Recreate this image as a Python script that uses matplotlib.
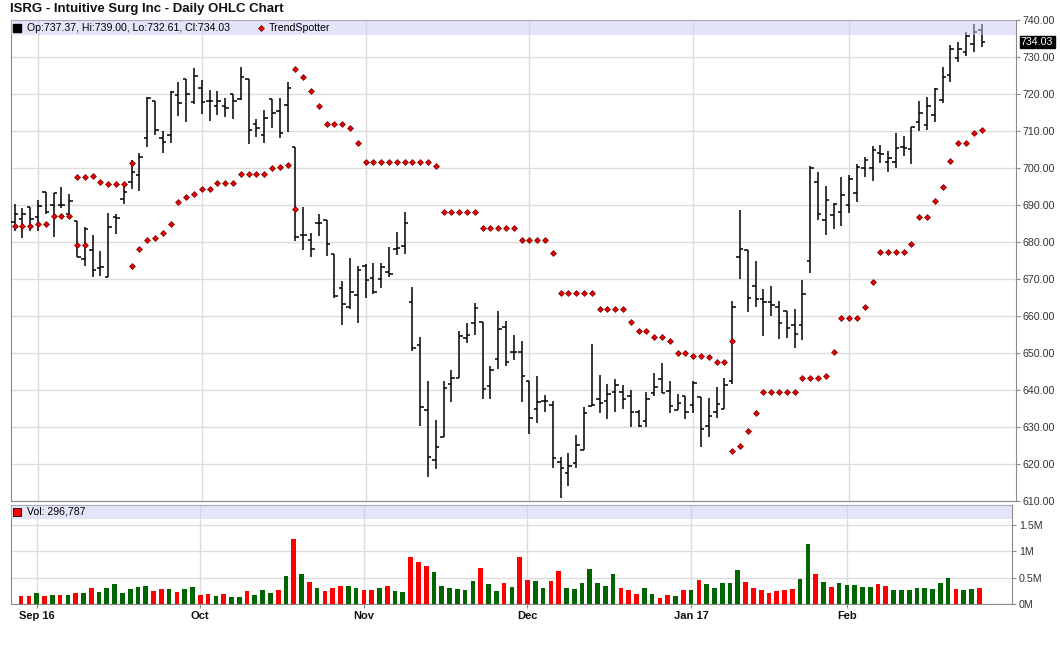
import matplotlib
matplotlib.use('Agg')
import matplotlib.pyplot as plt
import numpy as np
import pandas as pd

plt.rcParams['font.family'] = ['Liberation Sans', 'DejaVu Sans']

# daily OHLC, Aug 29 2016 .. Feb 27 2017
opens = [685.4, 686.2, 689.4, 686.7, 693.4, 690.0, 690.0, 687.7, 685.8, 675.4,
         677.8, 672.9, 670.6, 686.8, 691.6, 696.1, 698.1, 708.0, 718.1, 708.0,
         708.9, 719.7, 724.1, 717.9, 721.5, 718.2, 716.8, 716.8, 720.0, 718.6,
         724.1, 711.8, 708.9, 718.6, 715.5, 717.0, 705.8, 681.9, 680.5, 685.2,
         685.9, 676.7, 667.5, 662.5, 665.7, 673.5, 670.4, 670.0, 671.8, 678.0,
         678.9, 663.7, 652.2, 634.6, 621.1, 627.2, 641.5, 643.2, 654.1, 658.2,
         658.5, 641.1, 648.4, 657.1, 650.2, 650.2, 642.5, 634.9, 637.1, 635.9,
         620.6, 617.7, 620.4, 623.8, 635.8, 637.6, 637.0, 639.5, 639.4, 638.4,
         634.0, 631.6, 639.3, 643.0, 639.8, 634.6, 638.4, 636.0, 638.2, 630.3,
         634.0, 635.0, 642.3, 675.9, 677.8, 668.1, 664.6, 663.7, 662.3, 661.4,
         657.6, 657.6, 674.9, 696.1, 685.9, 687.3, 688.0, 690.0, 693.2, 700.1,
         699.9, 704.1, 701.5, 701.7, 705.8, 705.1, 712.3, 711.6, 714.3, 718.4,
         725.1, 729.8, 731.3, 733.4, 737.37]
highs = [690.2, 689.1, 689.4, 691.4, 693.4, 693.2, 695.0, 693.0, 685.8, 684.0,
         681.9, 677.7, 687.9, 687.7, 695.9, 702.2, 704.0, 719.3, 718.1, 710.0,
         720.8, 723.2, 724.1, 727.1, 723.8, 721.1, 720.8, 718.8, 720.0, 727.3,
         724.1, 713.2, 715.7, 718.6, 719.0, 723.3, 705.8, 689.4, 682.3, 687.6,
         685.9, 676.7, 669.5, 675.8, 673.6, 674.0, 674.4, 674.4, 678.6, 682.8,
         688.0, 667.9, 654.4, 642.3, 631.9, 642.3, 645.4, 656.0, 658.2, 663.6,
         658.5, 646.5, 661.4, 658.6, 654.9, 653.2, 642.5, 643.8, 638.6, 637.1,
         621.8, 623.1, 627.8, 635.3, 652.3, 644.1, 641.6, 643.0, 641.4, 640.0,
         634.6, 639.5, 644.7, 647.4, 642.5, 638.9, 638.4, 642.3, 638.2, 637.9,
         640.9, 643.2, 664.1, 688.6, 677.8, 674.9, 667.3, 668.1, 664.1, 661.4,
         661.9, 669.7, 700.5, 698.8, 695.1, 690.5, 697.7, 698.1, 701.0, 703.1,
         705.9, 706.2, 704.7, 709.4, 708.6, 711.2, 718.2, 719.1, 721.5, 727.2,
         733.2, 734.0, 736.7, 738.9, 739.00]
lows = [683.1, 681.2, 683.1, 683.1, 687.6, 681.4, 689.1, 686.2, 675.9, 673.6,
        670.6, 670.9, 670.5, 682.1, 690.3, 694.3, 693.9, 705.8, 708.9, 704.0,
        706.8, 714.1, 712.3, 717.2, 714.6, 712.8, 714.3, 713.9, 713.2, 718.4,
        706.4, 708.5, 706.8, 710.7, 708.0, 709.8, 680.4, 677.8, 675.9, 681.7,
        676.3, 665.0, 657.7, 661.8, 658.2, 665.0, 665.9, 667.7, 670.5, 676.5,
        676.8, 650.6, 630.4, 616.6, 618.6, 627.2, 636.8, 643.2, 652.6, 654.9,
        637.5, 637.5, 645.6, 646.5, 648.1, 636.7, 628.0, 631.0, 634.1, 618.8,
        610.7, 614.1, 618.8, 623.8, 635.7, 633.9, 632.1, 634.0, 635.0, 629.9,
        629.9, 629.9, 638.5, 639.3, 633.7, 634.6, 632.1, 633.7, 624.5, 627.4,
        632.3, 635.0, 641.5, 669.9, 661.0, 662.5, 654.7, 660.1, 653.8, 654.1,
        651.4, 653.5, 671.7, 685.9, 681.9, 683.5, 684.4, 687.9, 690.9, 697.7,
        696.6, 701.4, 699.0, 700.1, 703.3, 701.0, 710.1, 710.3, 712.5, 717.5,
        723.3, 728.6, 730.4, 731.3, 732.61]
closes = [687.6, 687.6, 686.2, 689.8, 688.2, 693.2, 690.0, 691.1, 676.0, 683.5,
          672.3, 673.2, 684.1, 686.4, 693.4, 698.8, 703.1, 718.8, 710.3, 707.1,
          720.6, 717.7, 720.0, 724.9, 717.9, 718.2, 718.2, 716.1, 718.2, 724.5,
          710.3, 710.7, 713.4, 714.8, 709.4, 721.5, 681.4, 681.9, 678.0, 685.2,
          679.5, 665.5, 663.2, 666.4, 672.3, 669.7, 666.4, 673.2, 671.3, 678.3,
          685.2, 651.3, 635.3, 622.0, 624.7, 640.5, 643.2, 654.6, 654.9, 662.1,
          640.2, 645.4, 656.5, 647.7, 650.2, 643.8, 632.5, 636.8, 637.1, 621.7,
          618.8, 619.5, 625.1, 633.7, 636.0, 636.4, 638.9, 641.4, 637.7, 634.0,
          630.3, 637.6, 640.9, 639.3, 635.7, 636.4, 634.0, 642.0, 629.5, 633.0,
          636.2, 641.4, 662.3, 678.0, 665.0, 664.6, 663.7, 663.0, 658.0, 656.7,
          655.1, 665.9, 699.9, 687.6, 691.4, 690.2, 692.7, 696.9, 700.4, 702.2,
          704.9, 703.8, 702.8, 705.3, 705.5, 711.0, 715.0, 716.8, 721.4, 724.5,
          732.1, 732.1, 735.7, 736.7, 734.03]

# TrendSpotter dots (some days carry two dots where the signal flips)
ts_x = (list(range(0, 10)) + list(range(8, 16)) + list(range(15, 37))
        + list(range(36, 93)) + list(range(92, 125)))
ts_y = [684.2, 684.2, 684.2, 684.8, 684.8, 686.9, 686.9, 686.9, 679.1, 679.1,
        697.5, 697.5, 697.8, 696.1, 695.6, 695.6, 695.6, 701.3,
        673.6, 678.0, 680.5, 681.2, 682.3, 685.0, 690.7, 692.1, 692.9, 694.2,
        694.2, 695.9, 695.9, 695.9, 698.3, 698.3, 698.3, 698.3, 700.1, 700.3,
        700.7, 688.8,
        726.7, 724.5, 720.7, 716.7, 711.8, 711.8, 711.8, 710.7, 706.7,
        701.5, 701.5, 701.5, 701.5, 701.5, 701.5, 701.5, 701.5, 701.5, 700.5,
        688.0, 688.0, 688.0, 688.0, 688.0, 683.7, 683.7, 683.7, 683.7, 683.7,
        680.5, 680.5, 680.5, 680.5, 676.9, 666.1, 666.1, 666.1, 666.1, 666.1,
        661.8, 661.8, 661.8, 661.8, 658.3, 655.9, 655.9, 654.2, 654.2, 653.2,
        649.9, 649.9, 649.1, 649.1, 648.8, 647.7, 647.7, 653.2,
        623.4, 624.8, 628.8, 633.7, 639.4, 639.4, 639.4, 639.4, 639.4,
        643.2, 643.2, 643.2, 643.7, 650.2, 659.4, 659.4, 659.4, 662.3, 669.1,
        677.2, 677.2, 677.2, 677.2, 679.4, 686.7, 686.7, 691.0, 694.8, 701.8,
        706.7, 706.8, 709.4, 710.2]

# volume (thousands) for days 1..124, and up/down colouring
volumes = [151, 151, 208, 151, 170, 170, 170, 208, 208, 302,
           226, 302, 377, 208, 283, 321, 340, 245, 283, 283,
           226, 283, 321, 170, 189, 151, 189, 132, 132, 245,
           170, 264, 208, 264, 528, 1226, 566, 415, 302, 245,
           302, 340, 340, 302, 264, 264, 302, 340, 245, 226,
           887, 792, 717, 604, 340, 302, 283, 264, 434, 679,
           377, 245, 396, 321, 887, 453, 434, 302, 434, 623,
           302, 283, 396, 660, 396, 340, 566, 302, 264, 189,
           302, 189, 113, 170, 151, 264, 264, 453, 377, 302,
           396, 396, 642, 415, 302, 264, 208, 245, 264, 283,
           472, 1132, 566, 415, 321, 396, 358, 358, 321, 321,
           377, 340, 264, 264, 264, 302, 302, 283, 396, 491,
           283, 264, 283, 302]
vol_dir = ("rrgrgrgrgr" "gggggggrrg" "rggrrgrggr" "gggrgrgrgr" "rrggrrgrgg"
           "rrrggggggr" "ggrgrrggrr" "gggggggrrr" "ggrrgrgrgg" "gggrrrrrrr"
           "ggrgrggggg" "rrgggggggg" "rggr")
last_volume = 296787

holidays = ['2016-09-05', '2016-11-24', '2016-12-26', '2017-01-02',
            '2017-01-16', '2017-02-20']
dates = pd.bdate_range('2016-08-29', '2017-02-27', freq='C', holidays=holidays)

W, H = 1060, 645
fig = plt.figure(figsize=(W / 100, H / 100), dpi=100)


def box(l, t, r, b):
    return [l / W, 1 - b / H, (r - l) / W, (b - t) / H]


ax = fig.add_axes(box(11, 20, 1016, 501))
axv = fig.add_axes(box(11, 505, 1012, 604))

grid_c = '#dcdcdc'
spine_c = '#8a8a8a'
band_c = (205 / 255, 205 / 255, 245 / 255)
dot = dict(marker='D', ms=3.0, mfc='#e60000', mec='#700000', mew=0.5)

month_idx = [i for i in range(1, len(dates)) if dates[i].month != dates[i - 1].month]
month_lab = [dates[i].strftime('%b %y') if (k == 0 or dates[i].month == 1)
             else dates[i].strftime('%b') for k, i in enumerate(month_idx)]

# ---- price panel
x = np.arange(len(opens))
ax.vlines(x, lows, highs, color='black', lw=1.1, zorder=3)
ax.hlines(opens, x - 0.45, x, color='black', lw=1.1, zorder=3)
ax.hlines(closes, x, x + 0.45, color='black', lw=1.1, zorder=3)
ax.plot(ts_x, ts_y, ls='none', zorder=4, **dot)

ax.set_xlim(-0.47, 128.4)
ax.set_ylim(610, 740)
ax.axhspan(735.9, 740, color=band_c, alpha=0.5, lw=0, zorder=5)

yt = np.arange(610, 741, 10)
ax.set_yticks(yt)
ax.set_yticklabels([f'{v:.2f}' for v in yt])
ax.yaxis.tick_right()
ax.tick_params(axis='y', length=3, width=0.8, pad=2, labelsize=7.7,
               color=spine_c, labelcolor='#333333')
ax.set_xticks(month_idx)
ax.tick_params(axis='x', length=0, labelbottom=False)
ax.grid(color=grid_c, lw=1)
ax.set_axisbelow(True)
for s in ax.spines.values():
    s.set_color(spine_c)

ax.plot([6 / 1005], [1 - 8 / 481], 's', ms=6, color='black',
        transform=ax.transAxes, clip_on=False, zorder=6)
ax.text(16 / 1005, 1 - 8 / 481,
        f'Op:{opens[-1]:.2f}, Hi:{highs[-1]:.2f}, Lo:{lows[-1]:.2f}, Cl:{closes[-1]:.2f}',
        transform=ax.transAxes, fontsize=7.6, va='center', ha='left', zorder=6)
ax.plot([250 / 1005], [1 - 8 / 481], transform=ax.transAxes, clip_on=False,
        zorder=6, **dot)
ax.text(258 / 1005, 1 - 8 / 481, 'TrendSpotter', transform=ax.transAxes,
        fontsize=7.6, va='center', ha='left', zorder=6)

ax.annotate(f'{closes[-1]:.2f}', xy=(1, closes[-1]), xycoords=('axes fraction', 'data'),
            xytext=(3.5, 0), textcoords='offset points', va='center', ha='left',
            fontsize=7.7, color='white',
            bbox=dict(boxstyle='square,pad=0.12', fc='black', ec='black'))

fig.text(10 / W, 1 - 9 / H, 'ISRG - Intuitive Surg Inc - Daily OHLC Chart',
         fontsize=9.5, fontweight='bold', va='center', ha='left', color='#111111')

# ---- volume panel
vx = np.arange(1, len(volumes) + 1)
vcol = ['#ff0000' if c == 'r' else '#006400' for c in vol_dir]
axv.bar(vx, volumes, width=0.6, color=vcol, zorder=3)
axv.set_xlim(-0.3, 128.2)
axv.set_ylim(0, 1868)
axv.axhspan(1604, 1868, color=band_c, alpha=0.5, lw=0, zorder=5)
axv.set_yticks([0, 500, 1000, 1500])
axv.set_yticklabels(['0M', '0.5M', '1M', '1.5M'])
axv.yaxis.tick_right()
axv.tick_params(axis='y', length=3, width=0.8, pad=2, labelsize=7.7,
                color=spine_c, labelcolor='#333333')
axv.set_xticks(month_idx)
axv.set_xticklabels(month_lab, fontweight='bold', fontsize=8, color='#111111')
axv.tick_params(axis='x', length=3, width=0.8, pad=2, color=spine_c)
axv.grid(color=grid_c, lw=1)
axv.set_axisbelow(True)
for s in axv.spines.values():
    s.set_color(spine_c)

axv.plot([6 / 1001], [1 - 7 / 99], 's', ms=6, mfc='#ff0000', mec='black', mew=0.6,
         transform=axv.transAxes, clip_on=False, zorder=6)
axv.text(16 / 1001, 1 - 7 / 99, f'Vol: {last_volume:,}',
         transform=axv.transAxes, fontsize=7.6, va='center', ha='left', zorder=6)

fig.savefig('out.png', dpi=100, facecolor='white')
